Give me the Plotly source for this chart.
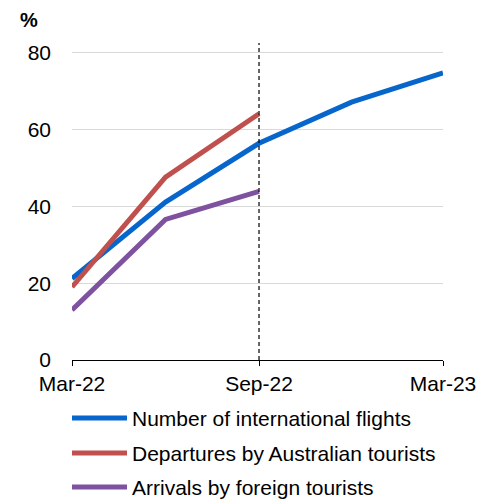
import plotly.graph_objects as go

# quarterly points, Mar-22 .. Mar-23
dates = ["2022-03-01", "2022-06-01", "2022-09-01", "2022-12-01", "2023-03-01"]
flights = [21.2, 41.1, 56.4, 67.1, 74.7]
departures = [19.0, 47.6, 64.1]
arrivals = [13.0, 36.6, 43.9]

tick_vals = ["2022-03-01", "2022-09-01", "2023-03-01"]
tick_text = ["Mar-22", "Sep-22", "Mar-23"]

series = [
    ("Number of international flights", dates, flights, "#0766cc"),
    ("Departures by Australian tourists", dates[:3], departures, "#c0504d"),
    ("Arrivals by foreign tourists", dates[:3], arrivals, "#7f52a0"),
]

FONT = "Arial, Liberation Sans, sans-serif"
W, H = 482, 502
L, R, T, B = 72, 39, 43, 142
plot_w = W - L - R
plot_h = H - T - B


def px_x(px):
    return (px - L) / plot_w


def px_y(py):
    return (H - B - py) / plot_h


fig = go.Figure()
for name, x, y, color in series:
    fig.add_trace(go.Scatter(x=x, y=y, name=name, mode="lines",
                             line=dict(color=color, width=5), showlegend=False))

# dashed marker at Sep-22
fig.add_shape(type="line", xref="x", yref="paper", x0="2022-09-01", x1="2022-09-01",
              y0=0, y1=1, line=dict(color="black", width=1.2, dash="4px,3px"), layer="above")

# hand-drawn legend (long line keys)
rows = [418, 453, 487]
for (name, _, _, color), row in zip(series, rows):
    fig.add_shape(type="line", xref="paper", yref="paper", x0=px_x(72), x1=px_x(127),
                  y0=px_y(row), y1=px_y(row), line=dict(color=color, width=5))
    fig.add_annotation(xref="paper", yref="paper", x=px_x(130), y=px_y(row), text=name,
                       showarrow=False, xanchor="left", yanchor="middle",
                       font=dict(family=FONT, size=21, color="black"))

fig.add_annotation(xref="paper", yref="paper", x=px_x(29), y=px_y(20), text="<b>%</b>",
                   showarrow=False, xanchor="center", yanchor="middle",
                   font=dict(family=FONT, size=20, color="black"))

fig.update_layout(
    width=W, height=H,
    margin=dict(l=L, r=R, t=T, b=B),
    paper_bgcolor="white", plot_bgcolor="white",
    font=dict(family=FONT, size=21, color="black"),
)
fig.update_xaxes(type="date", range=["2022-03-01", "2023-03-01"],
                 tickvals=tick_vals, ticktext=tick_text, automargin=False,
                 showline=True, linecolor="black", linewidth=1.3,
                 ticks="outside", ticklen=5, tickcolor="black", tickwidth=1.3,
                 showgrid=False, zeroline=False,
                 tickfont=dict(family=FONT, size=21))
fig.update_yaxes(range=[0, 82.5], tickvals=[0, 20, 40, 60, 80], automargin=False,
                 showgrid=True, gridcolor="#d9d9d9", gridwidth=1,
                 zeroline=False, showline=False, ticks="",
                 ticklabelstandoff=20,
                 tickfont=dict(family=FONT, size=21))

# page body has a default 8px margin; drop it so the figure fills the window
fig.write_html("out.html", config={"displayModeBar": False},
               post_script="document.body.style.margin='0';")
